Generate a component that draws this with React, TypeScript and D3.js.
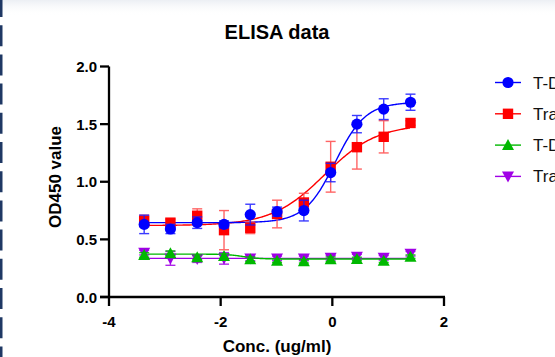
import React from 'react';
import * as d3 from 'd3';

// log10 concentration (ug/ml), 3-fold dilutions
const logConc = [-3.37, -2.90, -2.42, -1.94, -1.47, -0.99, -0.51, -0.03, 0.44, 0.92, 1.40];

const tdm1Mean = [0.63, 0.59, 0.645, 0.63, 0.715, 0.74, 0.75, 1.08, 1.50, 1.63, 1.69];
const tdm1Sd = [0.08, 0.04, 0.05, 0.03, 0.09, 0.04, 0.09, 0.08, 0.075, 0.09, 0.07];

const trasMean = [0.66, 0.645, 0.705, 0.58, 0.60, 0.72, 0.82, 1.13, 1.30, 1.39, 1.51];
const trasSd = [0.05, 0.03, 0.06, 0.17, 0.05, 0.12, 0.08, 0.22, 0.19, 0.14, 0.02];

const tdm1CtrlMean = [0.365, 0.38, 0.345, 0.355, 0.327, 0.315, 0.31, 0.327, 0.33, 0.315, 0.35];
const tdm1CtrlSd = [0.02, 0.02, 0.02, 0.02, 0.02, 0.015, 0.015, 0.02, 0.015, 0.015, 0.015];

const trasCtrlMean = [0.385, 0.335, 0.33, 0.335, 0.335, 0.335, 0.335, 0.34, 0.35, 0.34, 0.375];
const trasCtrlSd = [0.02, 0.06, 0.03, 0.05, 0.02, 0.02, 0.02, 0.02, 0.02, 0.02, 0.02];

// 4PL fit parameters: [bottom, top, logEC50, hill]
const tdm1Fit = [0.645, 1.69, 0.05, 1.6];
const trasFit = [0.62, 1.50, -0.14, 0.92];
const tdm1CtrlFit = [0.372, 0.33, -1.6, 3];
const trasCtrlFit = [0.335, 0.335, 0, 1];

const seriesNames = ['T-DM1', 'Trastuzumab', 'T-DM1 ctrl', 'Trastuzumab ctrl'];
const xTicks = [-4, -2, 0, 2];
const yTicks = [0, 0.5, 1.0, 1.5, 2.0];

const W = 555;
const H = 357;

const x = d3.scaleLinear().domain([-4, 2]).range([109, 444]);
const y = d3.scaleLinear().domain([0, 2]).range([297, 66.5]);

const fourPL = (p: number[], v: number) => p[0] + (p[1] - p[0]) / (1 + Math.pow(10, (p[2] - v) * p[3]));

type Shape = 'circle' | 'square' | 'up' | 'down';

const series = [
  { name: seriesNames[3], mean: trasCtrlMean, sd: trasCtrlSd, fit: trasCtrlFit, color: '#a000e6', err: '#a000e6', shape: 'down' as Shape },
  { name: seriesNames[2], mean: tdm1CtrlMean, sd: tdm1CtrlSd, fit: tdm1CtrlFit, color: '#00b800', err: '#00b800', shape: 'up' as Shape },
  { name: seriesNames[1], mean: trasMean, sd: trasSd, fit: trasFit, color: '#ff0000', err: '#ff4a4a', shape: 'square' as Shape },
  { name: seriesNames[0], mean: tdm1Mean, sd: tdm1Sd, fit: tdm1Fit, color: '#0000ff', err: '#1a1aff', shape: 'circle' as Shape },
];

const Marker = ({ shape, cx, cy, color }: { shape: Shape; cx: number; cy: number; color: string }) => {
  if (shape === 'circle') return <circle cx={cx} cy={cy} r={5.6} fill={color} />;
  if (shape === 'square') return <rect x={cx - 5.2} y={cy - 5.2} width={10.4} height={10.4} fill={color} />;
  const s = 6;
  if (shape === 'up') return <path d={`M${cx},${cy - s}L${cx + s},${cy + s - 1}L${cx - s},${cy + s - 1}Z`} fill={color} />;
  return <path d={`M${cx},${cy + s}L${cx + s},${cy - s + 1}L${cx - s},${cy - s + 1}Z`} fill={color} />;
};

const App = () => {
  const font = '"Liberation Sans", Arial, sans-serif';

  const curvePath = (p: number[]) => {
    const xs = d3.range(logConc[0], logConc[logConc.length - 1] + 0.001, 0.02);
    return d3
      .line<number>()
      .x((v) => x(v))
      .y((v) => y(fourPL(p, v)))(xs) as string;
  };

  const legendOrder = [3, 2, 1, 0];

  return (
    <svg width={W} height={H} style={{ position: 'fixed', left: 0, top: 0, background: '#fff' }} fontFamily={font}>
      <defs>
        <linearGradient id="topfade" x1="0" y1="0" x2="0" y2="1">
          <stop offset="0" stopColor="#eceff4" />
          <stop offset="1" stopColor="#ffffff" stopOpacity={0} />
        </linearGradient>
      </defs>
      <rect x={0} y={0} width={W} height={16} fill="url(#topfade)" />
      {/* dashed left border */}
      <line x1={1.2} x2={1.2} y1={0} y2={H} stroke="#1f3864" strokeWidth={2.6} strokeDasharray="21 8.2" strokeDashoffset={4} />

      <text x={277} y={39} textAnchor="middle" fontWeight="bold" fontSize={20}>ELISA data</text>

      {/* fit curves */}
      {series.map((s) => (
        <path key={s.name + 'fit'} d={curvePath(s.fit)} fill="none" stroke={s.color} strokeWidth={1.4} />
      ))}

      {/* error bars + markers */}
      {series.map((s) => (
        <g key={s.name}>
          {s.mean.map((m, i) => {
            const cx = x(logConc[i]);
            const y1 = y(m + s.sd[i]);
            const y2 = y(m - s.sd[i]);
            return (
              <g key={i} stroke={s.err} strokeWidth={1.4} opacity={0.85}>
                <line x1={cx} x2={cx} y1={y1} y2={y2} />
                <line x1={cx - 5} x2={cx + 5} y1={y1} y2={y1} />
                <line x1={cx - 5} x2={cx + 5} y1={y2} y2={y2} />
              </g>
            );
          })}
          {s.mean.map((m, i) => (
            <Marker key={'m' + i} shape={s.shape} cx={x(logConc[i])} cy={y(m)} color={s.color} />
          ))}
        </g>
      ))}

      {/* y axis */}
      <g>
        <line x1={x(-4)} x2={x(-4)} y1={y(2)} y2={y(0)} stroke="#000" strokeWidth={2.3} />
        {yTicks.map((t) => (
          <g key={t}>
            <line x1={x(-4) - 9} x2={x(-4)} y1={y(t)} y2={y(t)} stroke="#000" strokeWidth={2.3} />
            <text x={x(-4) - 12} y={y(t) + 5.5} textAnchor="end" fontWeight="bold" fontSize={15}>
              {t.toFixed(1)}
            </text>
          </g>
        ))}
      </g>

      {/* x axis */}
      <g>
        <line x1={x(-4) - 9} x2={x(2) + 1} y1={y(0)} y2={y(0)} stroke="#000" strokeWidth={2.3} />
        {xTicks.map((t) => (
          <g key={t}>
            <line x1={x(t)} x2={x(t)} y1={y(0)} y2={y(0) + 9} stroke="#000" strokeWidth={2.3} />
            <text x={x(t)} y={y(0) + 30} textAnchor="middle" fontWeight="bold" fontSize={15}>
              {String(t)}
            </text>
          </g>
        ))}
      </g>

      <text x={277} y={352} textAnchor="middle" fontWeight="bold" fontSize={17}>Conc. (ug/ml)</text>
      <text transform={`translate(61,${177}) rotate(-90)`} textAnchor="middle" fontWeight="bold" fontSize={17}>OD450 value</text>

      {/* legend (clipped by the right edge, as in the original) */}
      {legendOrder.map((k, row) => {
        const s = series[k];
        const ly = 82.5 + row * 31.3;
        return (
          <g key={'lg' + s.name}>
            <line x1={495} x2={521} y1={ly} y2={ly} stroke={s.color} strokeWidth={1.4} />
            <Marker shape={s.shape} cx={508} cy={ly} color={s.color} />
            <text x={533} y={ly + 6} fontSize={17} fill="#111">{s.name}</text>
          </g>
        );
      })}
    </svg>
  );
};

export default App;
